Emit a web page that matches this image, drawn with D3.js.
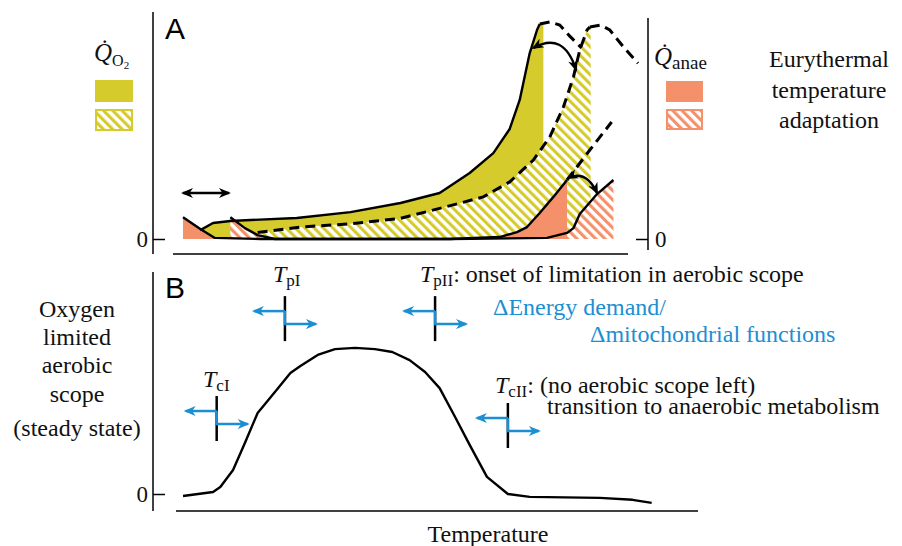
<!DOCTYPE html>
<html>
<head>
<meta charset="utf-8">
<script src="https://cdn.jsdelivr.net/npm/d3@7"></script>
<style>
  body { margin: 0; background: #fff; }
  svg { display: block; }
</style>
</head>
<body>
<svg id="fig" width="902" height="546"></svg>
<script>
// Panel A: temperature (arbitrary units) vs. rate (arbitrary units)
const o2Now = [[3.0,0.41],[4.4,0.74],[6.3,0.83],[13.6,0.97],[19.5,1.24],[25.0,1.66],[29.3,2.12],
  [32.6,3.04],[35.2,3.96],[37.0,5.07],[38.1,6.41],[39.2,8.57],[40.0,9.63],[40.3,9.91]];
const o2NowEnd = 40.7;
const o2NowTail = [[40.3,9.91],[41.4,10.0],[42.5,9.86],[43.6,9.35],[44.9,8.8]];

const o2Adapted = [[9.3,0.3],[14.0,0.55],[19.5,0.7],[25.0,0.95],[31.6,1.66],[34.1,1.94],[37.0,2.63],
  [39.6,3.64],[41.4,4.7],[42.9,6.08],[44.0,7.46],[44.7,8.71],[45.5,9.63],[45.8,9.77]];
const o2AdaptedEnd = 45.9;
const o2AdaptedTail = [[45.8,9.77],[47.0,9.86],[48.0,9.63],[49.5,8.85],[51.1,8.1]];

const anaeNow = [[1.1,1.0],[3.0,0.46],[4.6,0.05],[9.6,0],[30.4,0],[35.9,0.09],[37.8,0.32],
  [38.9,0.55],[40.3,1.2],[41.8,1.94],[43.3,2.72]];
const anaeNowTail = [[43.3,2.72],[45.8,4.1],[48.2,5.39]];
const anaeAdapted = [[6.3,1.0],[7.9,0.5],[9.3,0.18],[11.2,0],[30.4,0],[41.1,0.05],[43.3,0.28],
  [44.0,0.5],[44.7,1.15],[46.6,2.07],[48.4,2.72]];

// Panel B: oxygen limited aerobic scope
const scope = [[1.1,-0.1],[4.4,0.1],[5.2,0.36],[6.6,1.24],[7.9,2.63],[9.3,4.18],[11.2,5.26],
  [12.9,6.24],[14.0,6.6],[15.9,7.17],[17.8,7.47],[20.0,7.53],[22.2,7.47],[24.1,7.32],[26.0,6.9],
  [27.7,6.29],[29.3,5.46],[31.0,3.97],[32.6,2.53],[34.5,0.88],[36.8,0],[39.2,-0.15],[46.9,-0.2],
  [50.5,-0.3],[52.6,-0.46]];

const thresholdNames = ["cI", "pI", "pII", "cII"];
const thresholdT = [4.8, 12.3, 28.8, 36.8];
const thresholdTop = [5.05, 10.2, 10.2, 4.69];

const yellow = "#d6cb2c", salmon = "#f4916b", blue = "#1b8fd2";
const serif = "'Liberation Serif', 'Times New Roman', serif";
const fs = 24;

const svg = d3.select("#fig");
const x = d3.scaleLinear().domain([0, 50]).range([173, 628]);
const yA = d3.scaleLinear().domain([0, 10]).range([239, 22]);
const yB = d3.scaleLinear().domain([0, 10]).range([494, 300]);

const defs = svg.append("defs");
function hatch(id, color) {
  const p = defs.append("pattern").attr("id", id).attr("patternUnits", "userSpaceOnUse")
    .attr("width", 6.6).attr("height", 6.6).attr("patternTransform", "rotate(-45)");
  p.append("rect").attr("width", 6.6).attr("height", 6.6).attr("fill", "#fff");
  p.append("rect").attr("width", 3.1).attr("height", 6.6).attr("fill", color);
}
hatch("hY", yellow);
hatch("hS", salmon);

function head(id, color) {
  defs.append("marker").attr("id", id).attr("viewBox", "0 0 12 10")
    .attr("refX", 10).attr("refY", 5).attr("markerWidth", 13).attr("markerHeight", 10)
    .attr("markerUnits", "userSpaceOnUse").attr("orient", "auto-start-reverse")
    .append("path").attr("d", "M0,0 L12,5 L0,10 L3.5,5 Z").attr("fill", color);
}
head("arK", "#000");
head("arB", blue);

// ---------- Panel A ----------
const areaA = d3.area().x(d => x(d[0])).y0(yA(0)).y1(d => yA(d[1]));
const lineA = d3.line().x(d => x(d[0])).y(d => yA(d[1]));

svg.append("path").datum(o2Now.concat([[o2NowEnd, 9.91]])).attr("d", areaA).attr("fill", yellow);
svg.append("path").datum(o2Adapted.concat([[o2AdaptedEnd, 9.77]])).attr("d", areaA).attr("fill", "url(#hY)");
svg.append("path").datum(anaeNow.filter(d => d[0] <= 4.6)).attr("d", areaA).attr("fill", salmon);
svg.append("path").datum(anaeNow.filter(d => d[0] >= 35.9)).attr("d", areaA).attr("fill", salmon);
svg.append("path").datum(anaeAdapted.filter(d => d[0] <= 11.2)).attr("d", areaA).attr("fill", "url(#hS)");
svg.append("path").datum(anaeAdapted.filter(d => d[0] >= 43.3)).attr("d", areaA).attr("fill", "url(#hS)");

for (const s of [o2Now, anaeNow, anaeAdapted]) {
  svg.append("path").datum(s).attr("d", lineA).attr("fill", "none")
    .attr("stroke", "#000").attr("stroke-width", 2.4).attr("stroke-linejoin", "round");
}
for (const s of [o2Adapted, o2AdaptedTail, o2NowTail, anaeNowTail]) {
  svg.append("path").datum(s).attr("d", lineA).attr("fill", "none")
    .attr("stroke", "#000").attr("stroke-width", 3).attr("stroke-dasharray", "10,6");
}

// shift arrows
function arrowA(p0, p1, c) {
  const d = c
    ? `M${x(p0[0])},${yA(p0[1])} Q${x(c[0])},${yA(c[1])} ${x(p1[0])},${yA(p1[1])}`
    : `M${x(p0[0])},${yA(p0[1])} L${x(p1[0])},${yA(p1[1])}`;
  svg.append("path").attr("d", d).attr("fill", "none").attr("stroke", "#000").attr("stroke-width", 2.4)
    .attr("marker-start", "url(#arK)").attr("marker-end", "url(#arK)");
}
arrowA([1.1, 2.12], [6.15, 2.12]);
arrowA([39.6, 8.8], [44.3, 7.8], [42.9, 9.6]);
arrowA([43.4, 2.81], [46.6, 2.12], [45.4, 3.2]);

// axes A
const lineStyle = sel => sel.attr("stroke", "#000").attr("stroke-width", 1.5);
svg.append("line").attr("x1", 153).attr("x2", 153).attr("y1", 12).attr("y2", 254).call(lineStyle);
svg.append("line").attr("x1", 648).attr("x2", 648).attr("y1", 18).attr("y2", 250).call(lineStyle);
svg.append("line").attr("x1", x(0)).attr("x2", x(50)).attr("y1", 254).attr("y2", 254).call(lineStyle);

function zeroAxis(g) {
  g.select(".domain").remove();
  g.selectAll("line").attr("stroke-width", 1.5);
  g.selectAll("text").attr("font-family", serif).attr("font-size", 23).attr("fill", "#111");
}
svg.append("g").attr("transform", "translate(153,0)")
  .call(d3.axisLeft(yA).tickValues([0]).tickSizeInner(-12).tickSizeOuter(0).tickPadding(5)).call(zeroAxis);
svg.append("g").attr("transform", "translate(648,0)")
  .call(d3.axisRight(yA).tickValues([0]).tickSizeInner(-12).tickSizeOuter(0).tickPadding(7)).call(zeroAxis);

svg.append("text").attr("x", 165).attr("y", 39).attr("font-family", "'Liberation Sans', Arial, sans-serif")
  .attr("font-size", 30).text("A");

// legends
function qdot(x0, y0, sub, subSize, dy, extra) {
  const t = svg.append("text").attr("x", x0).attr("y", y0).attr("font-family", serif).attr("fill", "#111");
  t.append("tspan").attr("font-style", "italic").attr("font-size", 25).text("Q\u0307");
  t.append("tspan").attr("font-size", subSize).attr("dy", dy).text(sub);
  if (extra) t.append("tspan").attr("font-size", 11).attr("dy", 3).text(extra);
}
qdot(94, 61, "O", 16, 5, "2");
qdot(654, 65, "anae", 19, 4);

svg.append("rect").attr("x", 95).attr("y", 80).attr("width", 38).attr("height", 22).attr("fill", yellow);
svg.append("rect").attr("x", 96).attr("y", 110).attr("width", 36).attr("height", 20)
  .attr("fill", "url(#hY)").attr("stroke", yellow).attr("stroke-width", 2);
svg.append("rect").attr("x", 666).attr("y", 81).attr("width", 37).attr("height", 21).attr("fill", salmon);
svg.append("rect").attr("x", 667).attr("y", 110).attr("width", 35).attr("height", 19)
  .attr("fill", "url(#hS)").attr("stroke", salmon).attr("stroke-width", 2);

const adapt = svg.append("text").attr("font-family", serif).attr("font-size", fs).attr("fill", "#111")
  .attr("text-anchor", "middle");
["Eurythermal", "temperature", "adaptation"].forEach((s, i) =>
  adapt.append("tspan").attr("x", 829).attr("y", 67 + i * 30.5).text(s));

// ---------- Panel B ----------
const lineB = d3.line().x(d => x(d[0])).y(d => yB(d[1]));
svg.append("path").datum(scope).attr("d", lineB).attr("fill", "none")
  .attr("stroke", "#000").attr("stroke-width", 2.4).attr("stroke-linejoin", "round");

svg.append("line").attr("x1", 153).attr("x2", 153).attr("y1", 272).attr("y2", 511).call(lineStyle);
svg.append("line").attr("x1", 176).attr("x2", 698).attr("y1", 511).attr("y2", 511).call(lineStyle);
svg.append("g").attr("transform", "translate(153,0)")
  .call(d3.axisLeft(yB).tickValues([0]).tickSizeInner(-12).tickSizeOuter(0).tickPadding(5)).call(zeroAxis);

svg.append("text").attr("x", 165).attr("y", 298).attr("font-family", "'Liberation Sans', Arial, sans-serif")
  .attr("font-size", 30).text("B");

thresholdT.forEach((t, i) => {
  const cx = x(t), top = yB(thresholdTop[i]);
  svg.append("line").attr("x1", cx).attr("x2", cx).attr("y1", top).attr("y2", top + 45)
    .attr("stroke", "#000").attr("stroke-width", 2.5);
  svg.append("path").attr("d", `M${cx},${top + 15} H${cx - 31}`).attr("fill", "none")
    .attr("stroke", blue).attr("stroke-width", 2.5).attr("marker-end", "url(#arB)");
  svg.append("path").attr("d", `M${cx},${top + 15} V${top + 28} H${cx + 31}`).attr("fill", "none")
    .attr("stroke", blue).attr("stroke-width", 2.5).attr("marker-end", "url(#arB)");
});

function tLabel(x0, y0, sub, rest) {
  const t = svg.append("text").attr("x", x0).attr("y", y0).attr("font-family", serif)
    .attr("font-size", fs).attr("fill", "#111");
  t.append("tspan").attr("font-style", "italic").text("T");
  t.append("tspan").attr("font-size", 17).attr("dy", 4).text(sub);
  if (rest) t.append("tspan").attr("dy", -4).text(rest);
  return t;
}
tLabel(273, 282, thresholdNames[1]);
tLabel(420, 282, thresholdNames[2], ": onset of limitation in aerobic scope");
tLabel(203, 387, thresholdNames[0]);
tLabel(495, 393, thresholdNames[3], ": (no aerobic scope left)");
svg.append("text").attr("x", 547).attr("y", 414).attr("font-family", serif).attr("font-size", fs)
  .attr("fill", "#111").text("transition to anaerobic metabolism");

svg.append("text").attr("x", 493).attr("y", 315).attr("font-family", serif).attr("font-size", fs)
  .attr("fill", blue).text("\u0394Energy demand/");
svg.append("text").attr("x", 590).attr("y", 342).attr("font-family", serif).attr("font-size", fs)
  .attr("fill", blue).text("\u0394mitochondrial functions");

const ylab = svg.append("text").attr("font-family", serif).attr("font-size", fs).attr("fill", "#111")
  .attr("text-anchor", "middle");
const ylabY = [317, 345, 373, 402, 436];
["Oxygen", "limited", "aerobic", "scope", "(steady state)"].forEach((s, i) =>
  ylab.append("tspan").attr("x", 77).attr("y", ylabY[i]).text(s));

svg.append("text").attr("x", 488).attr("y", 542).attr("text-anchor", "middle").attr("font-family", serif)
  .attr("font-size", fs).attr("fill", "#111").text("Temperature");
</script>
</body>
</html>
